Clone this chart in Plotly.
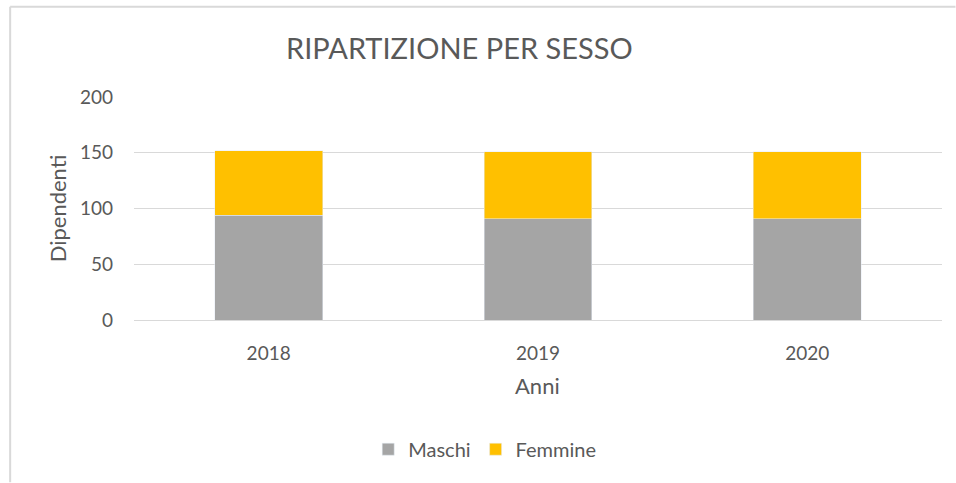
import plotly.graph_objects as go

anni = ["2018", "2019", "2020"]
maschi = [94, 91, 91]
femmine = [58, 60, 60]
y_ticks = [0, 50, 100, 150, 200]

FONT = "Lato"
GREY = "#595959"

fig = go.Figure()
fig.add_trace(go.Bar(name="Maschi", x=anni, y=maschi, marker_color="#a5a5a5"))
fig.add_trace(go.Bar(name="Femmine", x=anni, y=femmine, marker_color="#ffc000"))

W, H = 956, 483
L, R, T, B = 133.5, 13.5, 97, 162.5
pw = W - L - R
ph = H - T - B

def px_x(x):
    return (x - L) / pw

def px_y(y):
    return (H - B - y) / ph

fig.update_layout(
    width=W, height=H,
    barmode="stack", bargap=0.6,
    paper_bgcolor="white", plot_bgcolor="white",
    margin=dict(l=L, r=R, t=T, b=B, autoexpand=False),
    font=dict(family=FONT, color=GREY, size=19),
    showlegend=True,
    legend=dict(orientation="h", x=px_x(368), y=px_y(450), xanchor="left", yanchor="middle",
                font=dict(size=20, color=GREY), traceorder="normal"),
    xaxis=dict(showgrid=False, showline=True, linecolor="#d9d9d9", linewidth=1,
               tickfont=dict(size=19, color=GREY), ticklabelstandoff=16, zeroline=False),
    yaxis=dict(range=[0, 200], tickvals=y_ticks, showgrid=True, gridcolor="#d9d9d9",
               gridwidth=1, zeroline=False, showline=False,
               tickfont=dict(size=19, color=GREY), ticklabelstandoff=20),
    annotations=[
        dict(text="RIPARTIZIONE PER SESSO", x=px_x(459), y=px_y(47), xref="paper", yref="paper",
             showarrow=False, xanchor="center", yanchor="middle",
             font=dict(size=29, color=GREY, family=FONT)),
        dict(text="Dipendenti", x=px_x(57), y=px_y(209), xref="paper", yref="paper",
             showarrow=False, textangle=-90, xanchor="center", yanchor="middle",
             font=dict(size=22, color=GREY, family=FONT)),
        dict(text="Anni", x=px_x(537), y=px_y(386), xref="paper", yref="paper",
             showarrow=False, xanchor="center", yanchor="middle",
             font=dict(size=22, color=GREY, family=FONT)),
    ],
    shapes=[
        dict(type="line", xref="paper", yref="paper", x0=px_x(9.5), x1=px_x(9.5),
             y0=px_y(6.5), y1=px_y(483), line=dict(color="#d9d9d9", width=2)),
        dict(type="line", xref="paper", yref="paper", x0=px_x(9.5), x1=px_x(956),
             y0=px_y(6.5), y1=px_y(6.5), line=dict(color="#d9d9d9", width=2)),
    ],
)

fig.write_html(
    "out.html",
    config={"displayModeBar": False},
    post_script="document.body.style.margin='0';document.body.style.overflow='hidden';",
)
